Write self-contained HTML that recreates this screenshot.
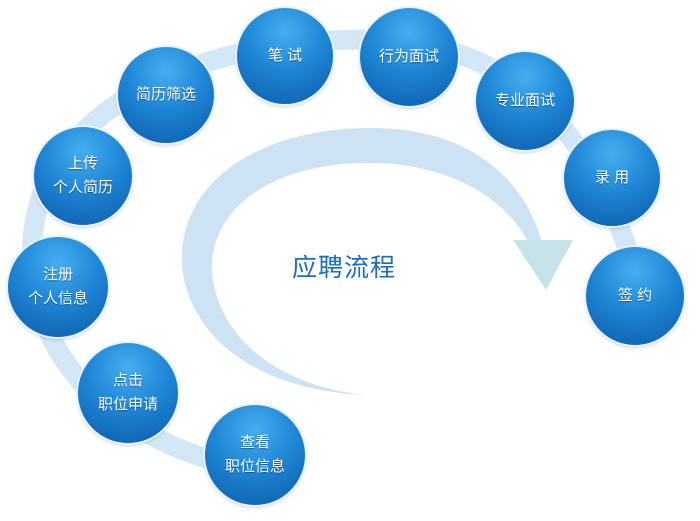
<!DOCTYPE html>
<html><head><meta charset="utf-8"><style>
body{margin:0;width:700px;height:521px;background:#fff;overflow:hidden;position:relative;font-family:"Liberation Sans","Noto Sans CJK SC",sans-serif}
.c{position:absolute;border-radius:50%;background:radial-gradient(circle at 50% 25%,#45aef0 0%,#1f86d6 45%,#0b5ba8 100%);box-shadow:0 0 0 2px #e8f3fb,0 2px 4px rgba(0,0,0,.25);color:#fff;display:flex;align-items:center;justify-content:center;text-align:center;font-size:15px;line-height:24px;text-shadow:0 1px 1px rgba(0,0,0,.4)}
</style></head><body>
<svg width="700" height="521" style="position:absolute;left:0;top:0">
<path d="M250,470 C60,430 10,300 40,200 C80,80 250,35 380,40 C520,45 600,140 640,290" fill="none" stroke="#d3e7f6" stroke-width="20" stroke-linecap="round"/>
<path d="M365,395 C250,390 185,330 182,262 C180,180 260,130 365,128 C470,126 530,180 545,255 L535,258 C515,200 450,162 365,163 C270,164 210,210 212,270 C215,330 270,385 365,395 Z" fill="#cde3f4"/>
<polygon points="513,240 573,240 546,290" fill="#c6e3ea"/>
</svg>
<div style="position:absolute;left:292px;top:248px;font-size:25px;color:#1b6cbf;letter-spacing:1px">应聘流程</div>
<div class="c" style="left:205px;top:405px;width:100px;height:100px">查看<br>职位信息</div>
<div class="c" style="left:78px;top:343px;width:100px;height:100px">点击<br>职位申请</div>
<div class="c" style="left:8px;top:237px;width:100px;height:100px">注册<br>个人信息</div>
<div class="c" style="left:34px;top:127px;width:98px;height:98px">上传<br>个人简历</div>
<div class="c" style="left:118px;top:47px;width:96px;height:96px">简历筛选</div>
<div class="c" style="left:237px;top:8px;width:96px;height:96px">笔 试</div>
<div class="c" style="left:360px;top:8px;width:98px;height:98px">行为面试</div>
<div class="c" style="left:476px;top:52px;width:98px;height:98px">专业面试</div>
<div class="c" style="left:564px;top:130px;width:96px;height:96px">录 用</div>
<div class="c" style="left:586px;top:247px;width:98px;height:98px">签 约</div>
</body></html>
